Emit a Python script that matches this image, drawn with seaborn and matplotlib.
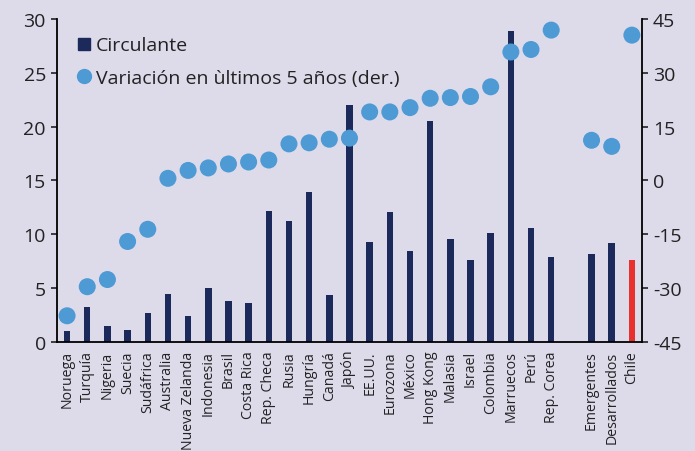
import numpy as np
import pandas as pd
import matplotlib
matplotlib.use("Agg")
import matplotlib.pyplot as plt
import seaborn as sns
from matplotlib.lines import Line2D

# Data
paises = [
    "Noruega", "Turquía", "Nigeria", "Suecia", "Sudáfrica", "Australia",
    "Nueva Zelanda", "Indonesia", "Brasil", "Costa Rica", "Rep. Checa",
    "Rusia", "Hungría", "Canadá", "Japón", "EE.UU.", "Eurozona", "México",
    "Hong Kong", "Malasia", "Israel", "Colombia", "Marruecos", "Perú",
    "Rep. Corea", " ", "Emergentes", "Desarrollados", "Chile",
]
circulante = [
    1.0, 3.25, 1.5, 1.1, 2.65, 4.45,
    2.4, 5.05, 3.85, 3.6, 12.15,
    11.27, 13.96, 4.4, 22.0, 9.3, 12.04, 8.45,
    20.55, 9.56, 7.6, 10.1, 28.9, 10.58,
    7.9, np.nan, 8.17, 9.16, 7.6,
]
variacion = [
    -37.7, -29.6, -27.6, -17.0, -13.6, 0.6,
    2.8, 3.5, 4.6, 5.15, 5.7,
    10.2, 10.5, 11.5, 11.8, 19.1, 19.1, 20.3,
    22.9, 23.1, 23.4, 26.1, 35.8, 36.5,
    41.9, np.nan, 11.2, 9.5, 40.5,
]

navy = "#1B2A5A"
red = "#E8302E"
light_blue = "#4D9AD4"
bg = "#DDDAEA"
txt = "#222222"

df = pd.DataFrame({
    "pais": paises,
    "circulante": circulante,
    "variacion": variacion,
})
df["pos"] = np.arange(len(df))

colores = {p: (red if p == "Chile" else navy) for p in paises}

sns.set_style("ticks")
plt.rcParams["font.family"] = ["Open Sans", "DejaVu Sans"]
plt.rcParams["axes.unicode_minus"] = False

fig = plt.figure(figsize=(6.95, 4.52), dpi=100, facecolor=bg)
ax = fig.add_axes([0.082, 0.2412, 0.8417, 0.7146])
ax.set_facecolor(bg)

sns.barplot(
    data=df,
    x="pais",
    y="circulante",
    hue="pais",
    palette=colores,
    order=paises,
    width=0.32,
    saturation=1,
    linewidth=0,
    legend=False,
    ax=ax,
)

ax2 = ax.twinx()
sns.scatterplot(
    data=df,
    x="pos",
    y="variacion",
    color=light_blue,
    s=150,
    edgecolor="none",
    zorder=5,
    ax=ax2,
)

ax.set_xlim(-0.5, len(paises) - 0.5)
ax.set_ylim(0, 30)
ax.set_yticks(np.arange(0, 31, 5))
ax2.set_ylim(-45, 45)
ax2.set_yticks(np.arange(-45, 46, 15))

ax.set_xlabel("")
ax.set_ylabel("")
ax2.set_xlabel("")
ax2.set_ylabel("")

ax.set_xticks(range(len(paises)))
ax.set_xticklabels(paises, rotation=90, fontsize=10.2, color=txt)
ax.tick_params(axis="x", length=0, pad=6)
ax.tick_params(axis="y", length=4.5, width=1.2, labelsize=14, colors=txt)
ax2.tick_params(axis="y", length=4.5, width=1.2, labelsize=14, colors=txt)
for a in (ax, ax2):
    for t in a.get_yticklabels():
        t.set_color(txt)

for a in (ax, ax2):
    a.spines["top"].set_visible(False)
    for s in ("left", "right", "bottom"):
        a.spines[s].set_linewidth(1.3)
        a.spines[s].set_color("black")
ax.spines["right"].set_visible(False)
ax2.spines["left"].set_visible(False)
ax2.spines["bottom"].set_visible(False)

handles = [
    Line2D([], [], marker="s", color=navy, linestyle="none", markersize=8),
    Line2D([], [], marker="o", color=light_blue, linestyle="none", markersize=10),
]
leg = ax.legend(
    handles,
    ["Circulante", "Variación en ùltimos 5 años (der.)"],
    loc="upper left",
    bbox_to_anchor=(0.016, 0.97),
    frameon=False,
    fontsize=14,
    handletextpad=0.1,
    handlelength=1.0,
    labelspacing=0.75,
    borderaxespad=0,
    labelcolor=txt,
)

fig.savefig("out.png", dpi=100, facecolor=bg)
